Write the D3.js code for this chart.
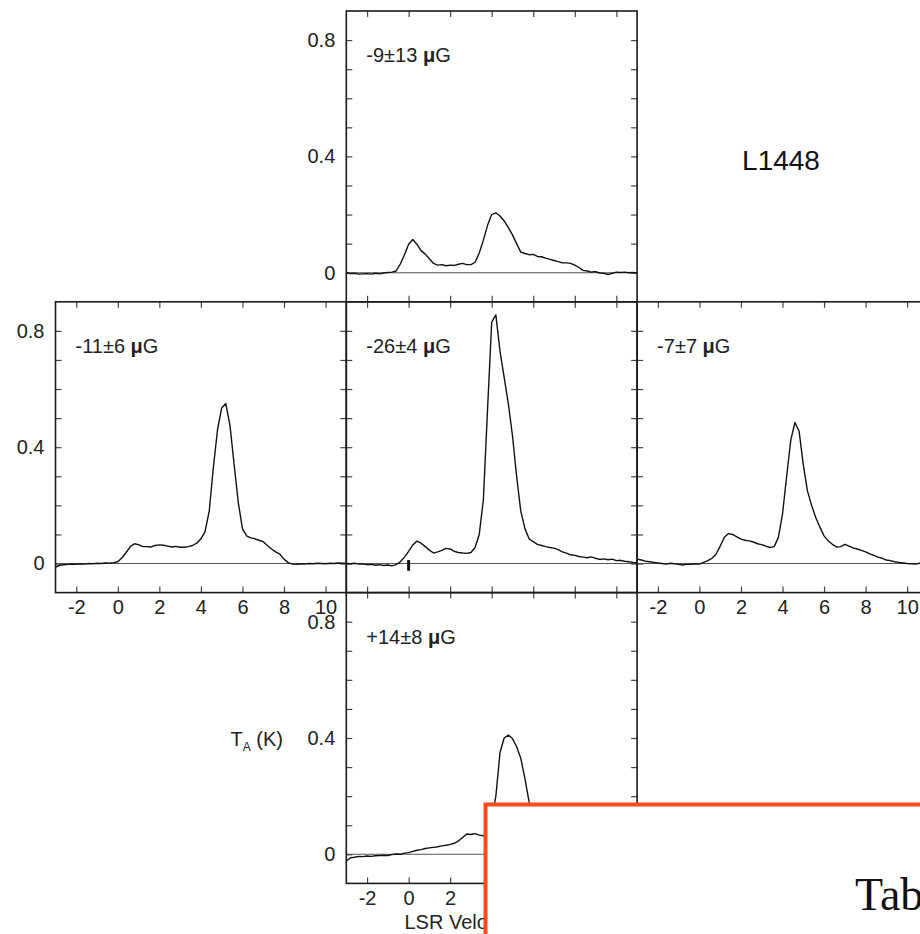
<!DOCTYPE html>
<html>
<head>
<meta charset="utf-8">
<script src="https://cdn.jsdelivr.net/npm/d3@7"></script>
<style>
  body { margin: 0; background: #fff; }
  svg { display: block; font-family: "Liberation Sans", Arial, Helvetica, sans-serif; }
</style>
</head>
<body>
<svg id="plotSvg" width="920" height="934"></svg>
<script>
// LSR velocity grid (km/s), shared by all spectra
const velocity = [-3.0,-2.8,-2.6,-2.4,-2.2,-2.0,-1.8,-1.6,-1.4,-1.2,-1.0,-0.8,-0.6,-0.4,-0.2,
    0.0,0.2,0.4,0.6,0.8,1.0,1.2,1.4,1.6,1.8,2.0,2.2,2.4,2.6,2.8,3.0,3.2,3.4,3.6,3.8,
    4.0,4.2,4.4,4.6,4.8,5.0,5.2,5.4,5.6,5.8,6.0,6.2,6.4,6.6,6.8,7.0,7.2,7.4,7.6,7.8,
    8.0,8.2,8.4,8.6,8.8,9.0,9.2,9.4,9.6,9.8,10.0,10.2,10.4,10.6,10.8,11.0];

// antenna temperature T_A (K) for each pointing
const specNorth = [0.000,-0.003,-0.002,-0.005,-0.004,-0.003,-0.005,-0.002,-0.004,-0.001,0.001,0.002,0.006,0.030,0.062,
    0.098,0.114,0.098,0.076,0.064,0.048,0.032,0.026,0.028,0.024,0.026,0.025,0.029,0.032,0.028,0.028,0.036,0.068,0.112,0.163,
    0.200,0.206,0.195,0.178,0.155,0.130,0.100,0.071,0.066,0.062,0.063,0.056,0.055,0.050,0.046,0.042,0.038,0.034,0.034,0.032,
    0.026,0.018,0.008,0.006,0.002,0.004,-0.001,-0.002,-0.006,-0.002,0.002,0.001,0.002,0.000,0.001,-0.001];
const specWest = [-0.012,-0.006,-0.004,-0.003,-0.002,-0.003,-0.001,-0.002,0.000,-0.001,0.001,0.000,0.002,0.001,0.003,
    0.006,0.020,0.038,0.058,0.068,0.065,0.058,0.058,0.057,0.062,0.064,0.063,0.060,0.057,0.059,0.056,0.056,0.058,0.062,0.070,
    0.085,0.110,0.180,0.330,0.460,0.535,0.550,0.475,0.340,0.210,0.120,0.095,0.088,0.085,0.080,0.075,0.062,0.050,0.040,0.032,
    0.015,0.003,-0.002,-0.003,-0.001,-0.002,0.000,-0.001,0.001,0.000,-0.001,0.001,0.000,0.002,0.001,0.001];
const specCenter = [0.000,-0.001,0.001,-0.002,-0.001,-0.004,-0.003,-0.006,-0.004,-0.007,-0.005,-0.008,-0.004,0.006,0.022,
    0.042,0.064,0.077,0.070,0.058,0.046,0.036,0.040,0.045,0.052,0.050,0.042,0.038,0.036,0.035,0.038,0.055,0.100,0.220,0.530,
    0.830,0.855,0.730,0.640,0.550,0.440,0.300,0.180,0.120,0.085,0.075,0.066,0.062,0.058,0.055,0.053,0.048,0.040,0.036,0.030,
    0.028,0.024,0.022,0.020,0.023,0.018,0.014,0.016,0.013,0.015,0.010,0.011,0.008,0.006,0.004,0.002];
const specEast = [0.015,0.012,0.008,0.006,0.004,0.002,0.000,-0.002,0.001,-0.001,-0.003,-0.005,-0.002,-0.003,-0.001,
    -0.002,0.004,0.010,0.018,0.032,0.060,0.090,0.103,0.100,0.092,0.084,0.080,0.078,0.074,0.068,0.065,0.060,0.055,0.058,0.090,
    0.170,0.300,0.425,0.485,0.455,0.340,0.250,0.200,0.158,0.125,0.095,0.078,0.066,0.057,0.058,0.066,0.060,0.054,0.050,0.045,
    0.040,0.033,0.028,0.022,0.018,0.012,0.010,0.006,0.004,0.002,0.000,-0.001,-0.002,0.001,-0.002,-0.003];
const specSouth = [-0.024,-0.012,-0.010,-0.007,-0.008,-0.006,-0.007,-0.005,-0.004,-0.003,-0.004,-0.001,0.001,0.000,0.004,
    0.006,0.010,0.014,0.016,0.020,0.022,0.024,0.026,0.029,0.031,0.034,0.038,0.046,0.058,0.070,0.068,0.071,0.066,0.064,0.075,
    0.120,0.200,0.350,0.400,0.410,0.398,0.370,0.330,0.260,0.180,0.115,0.095,0.085,0.078,0.070,0.062,0.055,0.048,0.040,0.032,
    0.025,0.018,0.012,0.008,0.005,0.003,0.002,0.001,0.000,0.001,0.000,-0.001,0.000,0.001,0.000,0.000];

// line-of-sight field strength (microgauss) and error per pointing
const fieldValues = ["-9", "-11", "-26", "-7", "+14"];
const fieldErrors = ["13", "6", "4", "7", "8"];

const xTicks = [-2, 0, 2, 4, 6, 8, 10];
const yTicks = [0, 0.1, 0.2, 0.3, 0.4, 0.5, 0.6, 0.7, 0.8];
const yTickLabels = [0, 0.4, 0.8];
const markerVelocity = [0];

function plotGraph() {
    const svg = d3.select("#plotSvg");
    const size = 290.8, left0 = 55.5, top0 = 11;
    const tickLen = 6;

    // col/row grid position, which sides carry labels
    const panels = [
        { data: specNorth, col: 1, row: 0, yLab: true, xLab: false, field: 0 },
        { data: specWest, col: 0, row: 1, yLab: true, xLab: true, field: 1 },
        { data: specCenter, col: 1, row: 1, yLab: false, xLab: false, field: 2, marker: true },
        { data: specEast, col: 2, row: 1, yLab: false, xLab: true, field: 3 },
        { data: specSouth, col: 1, row: 2, yLab: true, xLab: true, field: 4 }
    ];

    panels.forEach(function (p, i) {
        const L = left0 + p.col * size, T = top0 + p.row * size;
        const x = d3.scaleLinear().domain([-3, 11]).range([L, L + size]);
        const y = d3.scaleLinear().domain([-0.1, 0.9]).range([T + size, T]);
        const g = svg.append("g").classed("panel", true);

        g.append("clipPath").attr("id", "clip" + i)
            .append("rect").attr("x", L).attr("y", T).attr("width", size).attr("height", size);

        // zero line
        g.append("line")
            .attr("x1", L).attr("x2", L + size)
            .attr("y1", y(0)).attr("y2", y(0))
            .attr("stroke", "#555").attr("stroke-width", 1.1);

        const fmtX = d => p.xLab ? String(d) : "";
        const fmtY = d => (p.yLab && yTickLabels.some(v => Math.abs(v - d) < 1e-9)) ? String(d) : "";

        const axes = [
            g.append("g").attr("transform", `translate(0,${T + size})`)
                .call(d3.axisBottom(x).tickValues(xTicks).tickSize(-tickLen).tickPadding(7).tickFormat(fmtX)),
            g.append("g").attr("transform", `translate(0,${T})`)
                .call(d3.axisTop(x).tickValues(xTicks).tickSize(-tickLen).tickFormat("")),
            g.append("g").attr("transform", `translate(${L},0)`)
                .call(d3.axisLeft(y).tickValues(yTicks).tickSize(-tickLen).tickPadding(11).tickFormat(fmtY)),
            g.append("g").attr("transform", `translate(${L + size},0)`)
                .call(d3.axisRight(y).tickValues(yTicks).tickSize(-tickLen).tickFormat(""))
        ];
        axes.forEach(function (a) {
            a.select(".domain").remove();
            a.selectAll("line").attr("stroke", "#444").attr("stroke-width", 1.2);
            a.selectAll("text")
                .style("font-size", "20px")
                .style("font-family", "'Liberation Sans', Arial, sans-serif")
                .attr("fill", "#222");
        });

        // spectrum
        const line = d3.line()
            .x((d, k) => x(velocity[k]))
            .y(d => y(d));
        g.append("path")
            .datum(p.data)
            .attr("clip-path", `url(#clip${i})`)
            .attr("d", line)
            .attr("fill", "none")
            .attr("stroke", "#111")
            .attr("stroke-width", 1.4)
            .attr("stroke-linejoin", "round");

        if (p.marker) {
            g.selectAll(".marker")
                .data(markerVelocity)
                .join("line")
                .classed("marker", true)
                .attr("x1", d => x(d)).attr("x2", d => x(d))
                .attr("y1", y(0.012)).attr("y2", y(-0.025))
                .attr("stroke", "#111").attr("stroke-width", 3);
        }

        // frame
        g.append("rect")
            .attr("x", L).attr("y", T).attr("width", size).attr("height", size)
            .attr("fill", "none").attr("stroke", "#1a1a1a").attr("stroke-width", 1.6);

        // field label
        const t = g.append("text")
            .attr("x", L + 20).attr("y", T + 51)
            .style("font-size", "20px")
            .attr("fill", "#222");
        t.append("tspan").text(fieldValues[p.field]);
        t.append("tspan").text("±");
        t.append("tspan").text(fieldErrors[p.field] + " ");
        t.append("tspan").style("font-weight", "bold").text("μ");
        t.append("tspan").text("G");
    });

    // axis titles
    const ta = svg.append("text")
        .attr("x", 283).attr("y", 746)
        .attr("text-anchor", "end")
        .style("font-size", "20px")
        .attr("fill", "#222");
    ta.append("tspan").text("T");
    ta.append("tspan").attr("dy", 5).style("font-size", "12px").text("A");
    ta.append("tspan").attr("dy", -5).text(" (K)");

    svg.append("text")
        .attr("x", left0 + 1.5 * size).attr("y", 929)
        .attr("text-anchor", "middle")
        .style("font-size", "20px")
        .attr("fill", "#222")
        .text("LSR Velocity (km/s)");

    svg.append("text")
        .attr("x", 781).attr("y", 170)
        .attr("text-anchor", "middle")
        .style("font-size", "28px")
        .attr("fill", "#111")
        .text("L1448");

    // overlaid window with table caption
    svg.append("rect")
        .attr("x", 485.5).attr("y", 804.5)
        .attr("width", 500).attr("height", 200)
        .attr("fill", "#fff")
        .attr("stroke", "#ff4a1a")
        .attr("stroke-width", 4);
    svg.append("text")
        .attr("x", 855).attr("y", 910)
        .style("font-family", "'Liberation Serif', 'Times New Roman', serif")
        .style("font-size", "46px")
        .attr("fill", "#111")
        .text("Table");
}

document.addEventListener('DOMContentLoaded', function () {
    plotGraph();
});
</script>
</body>
</html>
